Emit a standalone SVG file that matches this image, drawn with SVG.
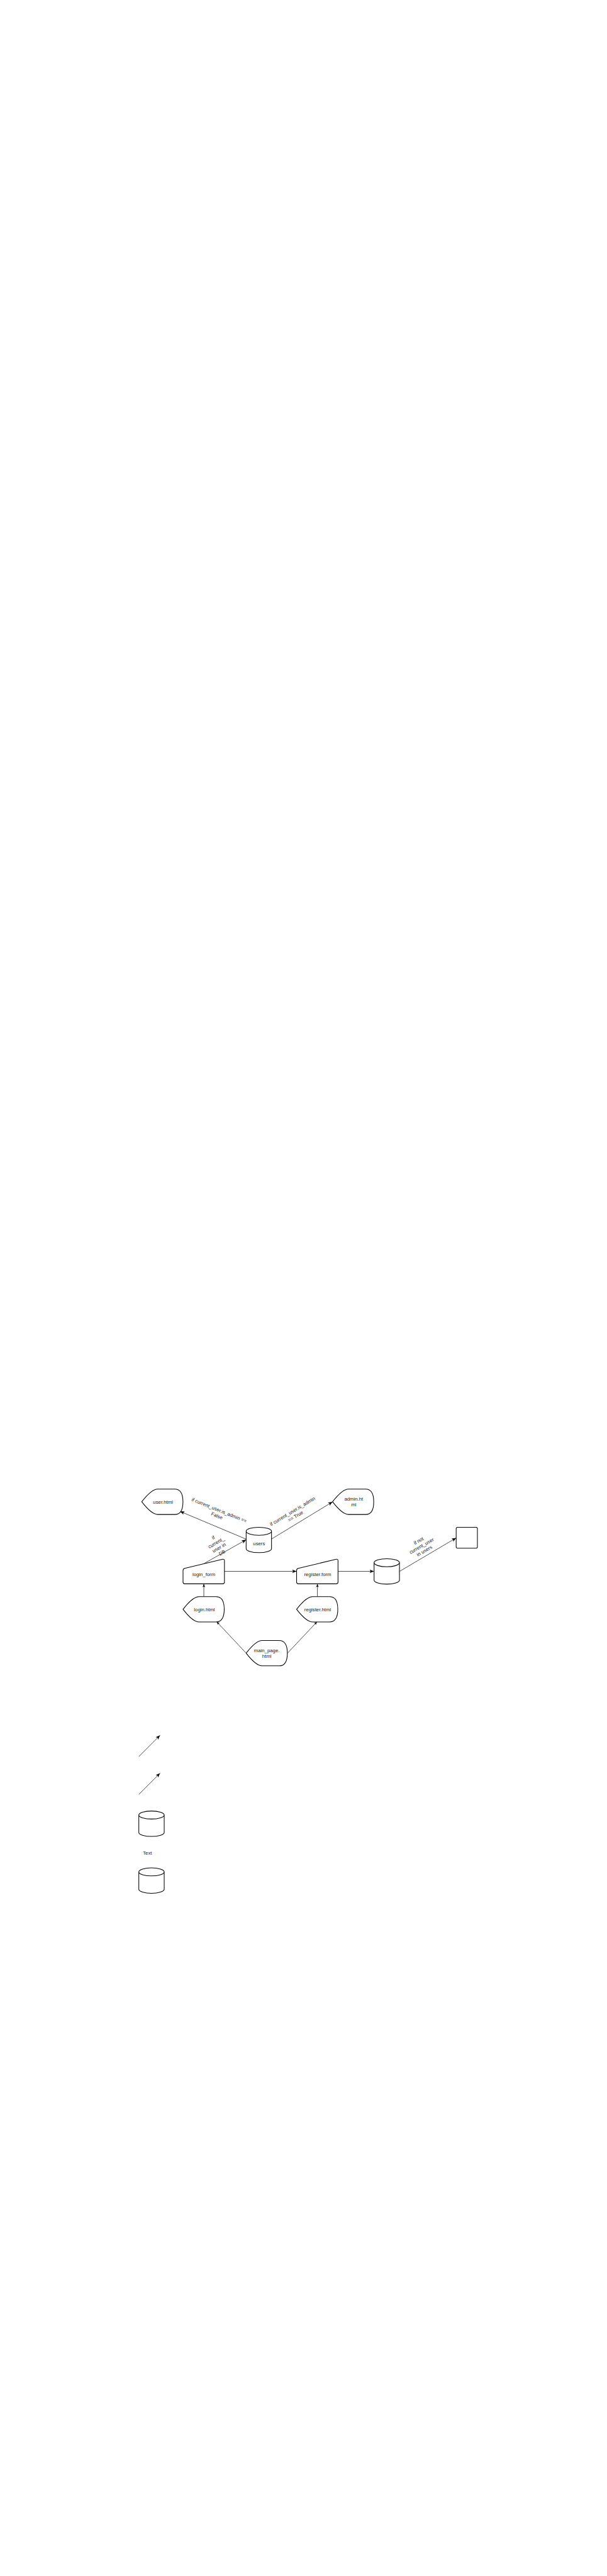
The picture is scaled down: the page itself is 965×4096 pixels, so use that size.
<svg xmlns="http://www.w3.org/2000/svg" xmlns:xlink="http://www.w3.org/1999/xlink" width="965" height="4096" viewBox="0 0 965 4096">
<style>
.shape{fill:#fff;stroke:#000;stroke-width:1.5;stroke-linejoin:round}
.edge{fill:none;stroke:#000;stroke-width:1}
.lbl{font-family:"Liberation Sans",Arial,sans-serif;font-size:11px;fill:#1a1a1a;text-anchor:middle}
</style>
<defs>
<marker id="arr" markerUnits="userSpaceOnUse" markerWidth="12" markerHeight="10" refX="10" refY="4" orient="auto" overflow="visible"><path d="M0,0 L10,4 L0,8 L2.5,4 Z" fill="#000"/></marker>
<marker id="arrs" markerUnits="userSpaceOnUse" markerWidth="9" markerHeight="8" refX="7" refY="3" orient="auto" overflow="visible"><path d="M0,0 L7,3 L0,6 L1.8,3 Z" fill="#000"/></marker>
<path id="display" d="M0,28.5 Q22,0 36,0 L74,0 Q92.5,0 92.5,28.5 Q92.5,57 74,57 L36,57 Q22,57 0,28.5 Z"/>
<path id="cyl" d="M0,9 A28.5,9 0 0 1 57,9 L57,48 A28.5,9 0 0 1 0,48 Z M0,9 A28.5,9 0 0 0 57,9"/>
<path id="minput" d="M0,26 Q0,22 3.9,21.1 L89.1,0.9 Q93,0 93,4 L93,52 Q93,56 89,56 L4,56 Q0,56 0,52 Z"/>
</defs>
<rect x="0" y="0" width="965" height="4096" fill="#fff"/>
<g transform="scale(0.708)">
<g id="connectors">
<path class="edge" d="M552.7,3456.7 L404.3,3394.3" marker-end="url(#arr)"/>
<path class="edge" d="M609.3,3456.7 L746.7,3373" marker-end="url(#arr)"/>
<path class="edge" d="M459,3511 L552.7,3458" marker-end="url(#arr)"/>
<path class="edge" d="M504,3529 L666,3529" marker-end="url(#arr)"/>
<path class="edge" d="M758.7,3529 L840,3529" marker-end="url(#arr)"/>
<path class="edge" d="M897.3,3529 L1024.3,3454" marker-end="url(#arr)"/>
<path class="edge" d="M457.7,3585.7 L457.7,3557.5" marker-end="url(#arrs)"/>
<path class="edge" d="M712.7,3585.7 L712.7,3557.5" marker-end="url(#arrs)"/>
<path class="edge" d="M552.7,3712.7 L486.7,3642.3" marker-end="url(#arrs)"/>
<path class="edge" d="M645.7,3712.7 L711.7,3642.5" marker-end="url(#arrs)"/>
<path class="edge" d="M311.7,3945 L359.3,3897.3" marker-end="url(#arr)"/>
<path class="edge" d="M311.7,4030 L359.3,3982.3" marker-end="url(#arr)"/>
<text class="lbl" transform="translate(489.8,3397.5) rotate(22)"><tspan x="0" y="-2.5">if current_user.is_admin ==</tspan><tspan x="0" y="11">False</tspan></text>
<text class="lbl" transform="translate(660,3399.5) rotate(-31)"><tspan x="0" y="-2.5">if current_user.is_admin</tspan><tspan x="0" y="10.5">== True</tspan></text>
<text class="lbl" transform="translate(488.7,3470) rotate(-30)"><tspan x="0" y="-15.5">if</tspan><tspan x="0" y="-2.5">current_</tspan><tspan x="0" y="10.5">user in</tspan><tspan x="0" y="23.5">DB</tspan></text>
<text class="lbl" transform="translate(946.5,3471.5) rotate(-30)"><tspan x="0" y="-9">if not</tspan><tspan x="0" y="4">current_user</tspan><tspan x="0" y="17">in users</tspan></text>
</g>
<g id="user_html"><use xlink:href="#display" class="shape" transform="translate(318.3,3344.3)"/><text class="lbl" x="366" y="3376.7">user.html</text></g>
<g id="admin_html"><use xlink:href="#display" class="shape" transform="translate(746.7,3344.3)"/><text class="lbl" x="794.3" y="3369.7">admin.ht</text><text class="lbl" x="794.3" y="3383">ml</text></g>
<g id="users"><use xlink:href="#cyl" class="shape" transform="translate(552.7,3430)"/><text class="lbl" x="581.7" y="3470.7">users</text></g>
<g id="login_form"><use xlink:href="#minput" class="shape" transform="translate(411,3501)"/><text class="lbl" x="457.7" y="3540">login_form</text></g>
<g id="register_form"><use xlink:href="#minput" class="shape" transform="translate(666,3501)"/><text class="lbl" x="713.3" y="3540">register.form</text></g>
<g id="db2"><use xlink:href="#cyl" class="shape" transform="translate(840,3500.7)"/></g>
<g id="square"><rect class="shape" x="1024.3" y="3430" width="47.7" height="47" rx="3"/></g>
<g id="login_html"><use xlink:href="#display" class="shape" transform="translate(411,3585.7)"/><text class="lbl" x="459" y="3618">login.html</text></g>
<g id="register_html"><use xlink:href="#display" class="shape" transform="translate(666,3585.7)"/><text class="lbl" x="713.3" y="3618">register.html</text></g>
<g id="main_page_html"><use xlink:href="#display" class="shape" transform="translate(552.7,3684.3)"/><text class="lbl" x="599" y="3710">main_page.</text><text class="lbl" x="599" y="3722.7">html</text></g>
<g id="cyl3"><use xlink:href="#cyl" class="shape" transform="translate(311.7,4067.3)"/></g>
<g id="text_node"><text class="lbl" x="331" y="4165.7">Text</text></g>
<g id="cyl4"><use xlink:href="#cyl" class="shape" transform="translate(311.7,4195)"/></g>
</g>
</svg>
